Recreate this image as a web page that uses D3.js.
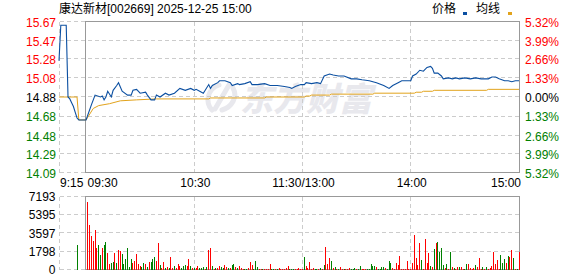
<!DOCTYPE html>
<html>
<head>
<meta charset="utf-8">
<script src="https://cdn.jsdelivr.net/npm/d3@7"></script>
<style>
  body { margin: 0; background: #fff; }
  text { font-family: "Liberation Sans", Arial, "Noto Sans CJK SC", sans-serif; font-size: 12px; }
</style>
</head>
<body>
<div id="chart"></div>
<script>
const title = "康达新材[002669] 2025-12-25 15:00";
const preClose = 14.88;

const priceTicks = [15.67, 15.47, 15.28, 15.08, 14.88, 14.68, 14.48, 14.29, 14.09];
const pctTicks = ["5.32%", "3.99%", "2.66%", "1.33%", "0.00%", "1.33%", "2.66%", "3.99%", "5.32%"];
const volTicks = [7193, 5395, 3597, 1798, 0];

// t = minutes since 9:15, lunch break left out (9:30 = 15, 11:30/13:00 = 135, 15:00 = 255)
const timeTicks = [0, 15, 75, 135, 195, 255];
const timeLabels = ["9:15", "09:30", "10:30", "11:30/13:00", "14:00", "15:00"];

// price line
const priceT = [0, 1, 4, 5, 6, 7, 8, 9, 10, 11, 15, 18, 20, 23, 24, 25, 26, 27, 29, 30,
  32, 33, 35, 38, 40, 41, 43, 45, 48, 49, 51, 53, 54, 56, 59, 61, 64, 67, 70, 73,
  75, 76, 78, 80, 83, 84, 85, 88, 89, 92, 95, 96, 99, 100, 103, 106, 107, 110, 114, 117,
  121, 125, 128, 129, 131, 134, 136, 137, 140, 143, 145, 147, 150, 152, 155, 158, 162, 165, 168, 172,
  176, 180, 183, 185, 188, 190, 195, 196, 198, 200, 202, 204, 206, 207, 208, 210, 212, 213, 216, 218,
  220, 222, 225, 228, 231, 234, 238, 240, 242, 244, 247, 249, 251, 253, 255];
const priceV = [15.26, 15.63, 15.63, 14.88, 14.86, 14.82, 14.78, 14.72, 14.66, 14.64, 14.64, 14.80, 14.90, 14.88, 14.89, 14.85, 14.88, 14.94, 14.88, 14.95,
  15.00, 15.03, 14.94, 14.90, 14.90, 14.95, 14.96, 14.92, 14.93, 14.90, 14.85, 14.85, 14.90, 14.88, 14.92, 14.90, 14.92, 14.97, 14.95, 14.97,
  14.95, 14.96, 14.94, 14.92, 15.01, 14.97, 15.00, 15.03, 15.05, 15.05, 15.03, 15.00, 15.02, 15.01, 15.02, 15.04, 15.01, 15.01, 15.02, 15.00,
  15.00, 14.99, 14.98, 14.97, 14.99, 15.01, 15.01, 15.03, 15.02, 15.03, 15.02, 15.10, 15.12, 15.11, 15.10, 15.10, 15.07, 15.07, 15.06, 15.05,
  15.03, 15.00, 14.97, 15.00, 15.03, 15.05, 15.05, 15.10, 15.12, 15.16, 15.15, 15.19, 15.20, 15.18, 15.13, 15.13, 15.10, 15.07, 15.08, 15.07,
  15.08, 15.07, 15.08, 15.07, 15.08, 15.07, 15.07, 15.09, 15.09, 15.07, 15.05, 15.05, 15.04, 15.05, 15.05];

// average price line
const avgT = [0, 10, 11, 15, 16, 19, 22, 28, 34, 43, 54, 83, 84, 114, 115, 136, 137, 139, 140, 150,
  151, 174, 175, 197, 198, 201, 202, 207, 208, 237, 238, 255];
const avgV = [14.88, 14.88, 14.64, 14.64, 14.67, 14.76, 14.79, 14.81, 14.84, 14.85, 14.86, 14.86, 14.87, 14.87, 14.88, 14.88, 14.89, 14.89, 14.90, 14.90,
  14.91, 14.91, 14.92, 14.92, 14.93, 14.93, 14.94, 14.94, 14.95, 14.95, 14.96, 14.96];

// 9:25 call auction volume
const auctionT = 10, auctionVol = 2430;

// minute volumes 9:31 .. 15:00 (t = 16 .. 255), r = up, g = down
const volumes = [6610, 4374, 3305, 2819, 3888, 2138, 2430, 1458, 2138, 2430,
  2722, 1652, 583, 680, 778, 1652, 680, 1944, 1847, 1555,
  583, 1069, 2138, 292, 1069, 680, 875, 1555, 583, 389,
  292, 680, 583, 292, 778, 778, 1069, 1264, 875, 2624,
  486, 194, 778, 130, 292, 194, 1264, 130, 389, 194,
  583, 389, 194, 389, 486, 389, 1069, 389, 130, 130,
  194, 389, 194, 130, 292, 97, 292, 1944, 2138, 389,
  97, 194, 194, 389, 292, 194, 486, 292, 194, 194,
  486, 583, 292, 194, 389, 194, 97, 97, 97, 194,
  778, 486, 97, 875, 292, 97, 97, 97, 97, 97,
  97, 583, 97, 97, 97, 97, 194, 97, 97, 97,
  194, 389, 97, 97, 97, 97, 97, 194, 97, 97,
  1264, 389, 194, 778, 97, 194, 97, 97, 97, 194,
  97, 486, 2236, 583, 1166, 875, 194, 292, 97, 97,
  292, 97, 97, 97, 97, 194, 97, 97, 194, 97,
  97, 389, 97, 97, 97, 97, 97, 583, 389, 389,
  292, 97, 97, 292, 292, 194, 97, 875, 680, 194,
  97, 680, 486, 1361, 97, 97, 97, 875, 97, 97,
  680, 3402, 1166, 486, 2624, 972, 97, 3013, 680, 1652,
  389, 292, 2041, 2624, 2722, 1750, 2138, 486, 194, 583,
  97, 1750, 292, 194, 97, 292, 292, 292, 97, 97,
  583, 583, 194, 97, 194, 486, 292, 1166, 97, 292,
  97, 292, 97, 194, 389, 1750, 583, 972, 97, 1458,
  680, 1069, 680, 1361, 1264, 1944, 1166, 97, 97, 1750];
const volDir = ("rrrrrrggrg" + "grrggrgrrg" + "gggggrrrrr" + "ggrgrgggrr" + "grrgrgrrgr" + "rrgggrrgrg" +
  "rrgggrgrrg" + "rgrrggrrgr" + "ggrgrrrggr" + "rrgggrrgrr" + "rrggrgrrrr" + "rrgggrrrrr" +
  "grrrrrggrg" + "rgrrrgrgrg" + "rrgrrrgggr" + "ggrrrggggg" + "rggggrgggr" + "rrrrrrrrrr" +
  "rrrrrgrrrr" + "grgrggggrg" + "rgrgrrgrrg" + "grrrrgrrrg" + "rgrrrrrrrg" + "ggrgrrgrgr").split("");

const width = 578, height = 276;
const red = "#ff0000", green = "#008000";
const crisp = v => Math.round(v - 0.5) + 0.5;

const svg = d3.select("#chart")
  .append("svg")
  .attr("width", width)
  .attr("height", height)
  .style("display", "block")
  .style("background", "#fff");

const x = d3.scaleLinear().domain([0, 255]).range([59, 519]);
const y = d3.scaleLinear().domain([14.09, 15.67]).range([172.5, 21.5]);
const yv = d3.scaleLinear().domain([0, 7193]).range([269.5, 196.5]);

// watermark
const wm = svg.append("g").attr("fill", "none").attr("stroke", "#e8e8ed").attr("stroke-width", 5).attr("stroke-linecap", "round");
wm.append("path").attr("d", "M219,85 C207,89 205,103 212,110");
wm.append("path").attr("d", "M229,85 L215,109");
wm.append("path").attr("d", "M233,88 C238,97 232,107 222,110");
svg.append("text")
  .attr("x", 240).attr("y", 111)
  .text("东方财富")
  .style("font-family", "'Noto Sans CJK SC', sans-serif")
  .style("font-size", "33px")
  .style("font-weight", 900)
  .style("font-style", "italic")
  .attr("fill", "#e8e8ed");

// grids
const grid = svg.append("g")
  .attr("stroke", "#cccccc")
  .attr("stroke-dasharray", "4,3")
  .attr("shape-rendering", "crispEdges");

grid.selectAll(".hp").data(priceTicks).enter().append("line")
  .attr("x1", 59.5).attr("x2", 519.5)
  .attr("y1", d => crisp(y(d))).attr("y2", d => crisp(y(d)));
grid.selectAll(".hv").data(volTicks).enter().append("line")
  .attr("x1", 59.5).attr("x2", 519.5)
  .attr("y1", d => crisp(yv(d))).attr("y2", d => crisp(yv(d)));
[0, 75, 135, 195].forEach(t => {
  grid.append("line").attr("x1", crisp(x(t))).attr("x2", crisp(x(t))).attr("y1", 21.5).attr("y2", 172.5);
  grid.append("line").attr("x1", crisp(x(t))).attr("x2", crisp(x(t))).attr("y1", 196.5).attr("y2", 269.5);
});

// frames
svg.append("rect").attr("x", 85.5).attr("y", 21.5).attr("width", 434).attr("height", 151)
  .attr("fill", "none").attr("stroke", "#999").attr("shape-rendering", "crispEdges");
svg.append("rect").attr("x", 85.5).attr("y", 196.5).attr("width", 434).attr("height", 73)
  .attr("fill", "none").attr("stroke", "#999").attr("shape-rendering", "crispEdges");

// volume bars
const volData = volumes.map((v, i) => ({t: 16 + i, v: v, dir: volDir[i]}));
volData.unshift({t: auctionT, v: auctionVol, dir: "g"});
svg.append("g").selectAll("rect")
  .data(volData)
  .enter()
  .append("rect")
  .attr("x", d => Math.round(x(d.t) - 0.5))
  .attr("y", d => Math.round(yv(d.v)))
  .attr("width", 1)
  .attr("height", d => Math.max(1, 270 - Math.round(yv(d.v))))
  .attr("fill", d => d.dir === "r" ? red : green)
  .attr("shape-rendering", "crispEdges");

// lines
const line = d3.line().x(d => x(d[0])).y(d => y(d[1]));
svg.append("path")
  .datum(d3.zip(avgT, avgV))
  .attr("d", line)
  .attr("fill", "none")
  .attr("stroke", "#e2a31c")
  .attr("stroke-width", 1);
svg.append("path")
  .datum(d3.zip(priceT, priceV))
  .attr("d", line)
  .attr("fill", "none")
  .attr("stroke", "#0b4fa1")
  .attr("stroke-width", 1.1);

// axes
const tickColor = d => d > preClose + 0.001 ? red : (d < preClose - 0.001 ? green : "#000");

const left = svg.append("g")
  .attr("transform", "translate(56,0)")
  .call(d3.axisLeft(y).tickValues(priceTicks).tickSize(0).tickPadding(0).tickFormat(d3.format(".2f")));
left.select(".domain").remove();
left.selectAll("text").attr("dy", "0.4em").attr("fill", tickColor).style("font-size", "12px");

const right = svg.append("g")
  .attr("transform", "translate(525,0)")
  .call(d3.axisRight(y).tickValues(priceTicks).tickSize(0).tickPadding(0).tickFormat((d, i) => pctTicks[i]));
right.select(".domain").remove();
right.selectAll("text").attr("dy", "0.4em").attr("fill", tickColor).style("font-size", "12px");

const bottom = svg.append("g")
  .attr("transform", "translate(0,178.5)")
  .call(d3.axisBottom(x).tickValues(timeTicks).tickSize(0).tickPadding(0).tickFormat((d, i) => timeLabels[i]));
bottom.select(".domain").remove();
bottom.selectAll("text")
  .attr("fill", "#000")
  .style("font-size", "12px")
  .attr("text-anchor", (d, i) => i < 2 ? "start" : (i === timeTicks.length - 1 ? "end" : "middle"))
  .attr("dx", (d, i) => i === 1 ? 1 : (i === timeTicks.length - 1 ? 1.5 : 0.5));

const vleft = svg.append("g")
  .attr("transform", "translate(55.5,0)")
  .call(d3.axisLeft(yv).tickValues(volTicks).tickSize(0).tickPadding(0).tickFormat(d3.format("d")));
vleft.select(".domain").remove();
vleft.selectAll("text").attr("dy", "0.35em").attr("fill", "#000").style("font-size", "12px");

// title and legend
svg.append("text").attr("x", 59).attr("y", 13).text(title).attr("fill", "#000");

svg.append("text").attr("x", 432).attr("y", 13).text("价格").attr("fill", "#000");
svg.append("rect").attr("x", 463).attr("y", 12).attr("width", 4).attr("height", 3).attr("fill", "#0b4fa1");
svg.append("text").attr("x", 476).attr("y", 13).text("均线").attr("fill", "#000");
svg.append("rect").attr("x", 508).attr("y", 12).attr("width", 4).attr("height", 3).attr("fill", "#e2a31c");
</script>
</body>
</html>
